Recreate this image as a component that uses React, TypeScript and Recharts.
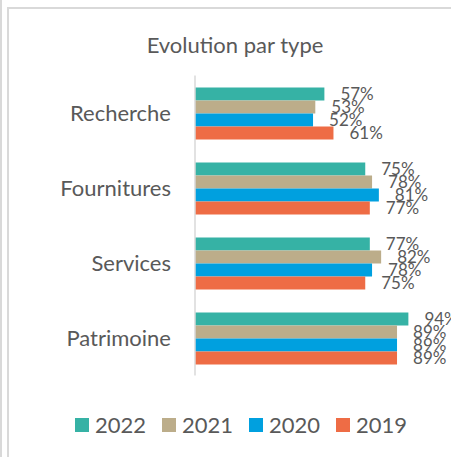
import React from 'react';
import { BarChart, Bar, XAxis, YAxis, LabelList } from 'recharts';

const categories = ['Recherche', 'Fournitures', 'Services', 'Patrimoine'];
const years = ['2022', '2021', '2020', '2019'];
const values2022 = [57, 75, 77, 94];
const values2021 = [53, 78, 82, 89];
const values2020 = [52, 81, 78, 89];
const values2019 = [61, 77, 75, 89];
const colors = ['#36B2A5', '#BCAD8A', '#00A0DF', '#EE6C45'];

const series = [values2022, values2021, values2020, values2019];

const chartData = categories.map((name, i) => {
  const row: Record<string, string | number> = { name };
  years.forEach((y, k) => {
    row[y] = series[k][i];
  });
  return row;
});

const FONT = 'Lato, "Open Sans", sans-serif';
const TEXT = '#595959';

export default function App() {
  return (
    <div style={{ position: 'absolute', left: 0, top: 0, width: 451, height: 457, background: '#fff', overflow: 'hidden' }}>
      {/* frame lines */}
      <div style={{ position: 'absolute', left: 0, top: 0, width: 2, height: 457, background: '#d9d9d9' }} />
      <div style={{ position: 'absolute', left: 7, top: 7, width: 460, height: 470, borderTop: '2px solid #d9d9d9', borderLeft: '2px solid #d9d9d9' }} />
      <div
        style={{
          position: 'absolute',
          left: 8,
          width: 454,
          top: 31,
          textAlign: 'center',
          fontFamily: FONT,
          fontSize: 22,
          color: TEXT,
        }}
      >
        Evolution par type
      </div>
      <div style={{ position: 'absolute', left: 0, top: 0 }}>
        <BarChart
          width={451}
          height={457}
          data={chartData}
          layout="vertical"
          margin={{ top: 75.5, right: 29, bottom: 81.5, left: 0 }}
          barCategoryGap="16%"
          barGap={0}
          style={{ overflow: 'visible' }}
        >
          <XAxis type="number" domain={[0, 100]} hide />
          <YAxis
            type="category"
            dataKey="name"
            width={195}
            tickLine={false}
            tickSize={0}
            tickMargin={24}
            axisLine={{ stroke: '#d9d9d9', strokeWidth: 1.5 }}
            tick={{ fill: TEXT, fontSize: 22, fontFamily: FONT }}
          />
          {years.map((y, k) => (
            <Bar key={y} dataKey={y} fill={colors[k]} isAnimationActive={false}>
              <LabelList
                dataKey={y}
                position="right"
                offset={16}
                formatter={(v: any) => `${v}%`}
                style={{ fill: TEXT, fontSize: 17, fontFamily: FONT }}
              />
            </Bar>
          ))}
        </BarChart>
      </div>
      {/* legend */}
      <div
        style={{
          position: 'absolute',
          left: 75,
          top: 411,
          display: 'flex',
          fontFamily: FONT,
          fontSize: 22,
          color: TEXT,
          lineHeight: '28px',
        }}
      >
        {years.map((y, k) => (
          <div key={y} style={{ display: 'flex', alignItems: 'center', width: 87 }}>
            <span style={{ width: 14, height: 14, background: colors[k], marginRight: 6 }} />
            <span>{y}</span>
          </div>
        ))}
      </div>
    </div>
  );
}
